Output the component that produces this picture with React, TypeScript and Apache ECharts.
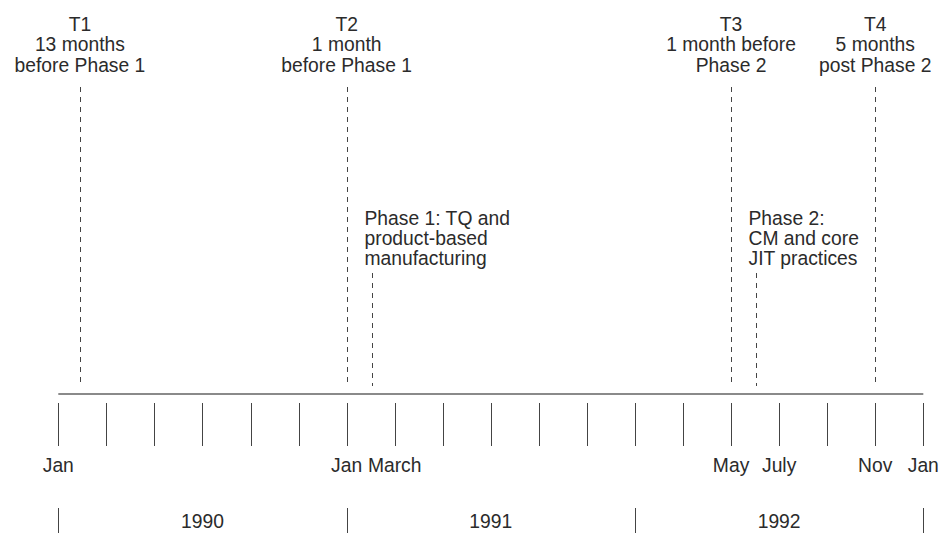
import React, { useEffect, useRef } from "react";
import * as echarts from "echarts";

// ---- data (months counted from Jan 1990) ----
const tickMonths = [0, 2, 4, 6, 8, 10, 12, 14, 16, 18, 20, 22, 24, 26, 28, 30, 32, 34, 36];
const monthLabelMonths = [0, 12, 14, 28, 30, 34, 36];
const monthLabelTexts = ["Jan", "Jan", "March", "May", "July", "Nov", "Jan"];
const yearBoundaries = [0, 12, 24, 36];
const yearLabels = ["1990", "1991", "1992"];
const timePointMonths = [0.9, 12, 28, 34];
const timePointLabels = [
  "T1\n13 months\nbefore Phase 1",
  "T2\n1 month\nbefore Phase 1",
  "T3\n1 month before\nPhase 2",
  "T4\n5 months\npost Phase 2",
];
const phaseMonths = [13.07, 29.03];
const phaseLabels = [
  "Phase 1: TQ and\nproduct-based\nmanufacturing",
  "Phase 2:\nCM and core\nJIT practices",
];

const FONT = "Liberation Sans, Arial, Helvetica, sans-serif";
const TEXT = "#2b2b2b";
const FS = 19.3;

export default function App() {
  const ref = useRef<HTMLDivElement>(null);
  useEffect(() => {
    document.body.style.margin = "0";
    if (!ref.current) return;
    const chart = echarts.init(ref.current, null, { renderer: "svg" });
    const xOf = (api: any, m: number) => api.coord([m, 0])[0];

    const option: any = {
      animation: false,
      grid: { left: 58.3, right: 19.7, top: 0, bottom: 0 },
      xAxis: { type: "value", min: 0, max: 36, show: false },
      yAxis: { type: "value", min: 0, max: 1, show: false },
      series: [
        {
          type: "custom",
          name: "timeline",
          clip: false,
          data: [[0, 0, 36]],
          renderItem: (params: any, api: any) => ({
            type: "line",
            shape: { x1: xOf(api, api.value(0)), y1: 394, x2: xOf(api, api.value(2)), y2: 394 },
            style: { stroke: "#8a8a8a", lineWidth: 2 },
          }),
        },
        {
          type: "custom",
          name: "ticks",
          clip: false,
          data: tickMonths.map((m) => [m, 0]),
          renderItem: (params: any, api: any) => {
            const x = Math.round(xOf(api, api.value(0))) + 0.5;
            return {
              type: "line",
              shape: { x1: x, y1: 403, x2: x, y2: 446 },
              style: { stroke: "#444444", lineWidth: 1 },
            };
          },
        },
        {
          type: "custom",
          name: "monthLabels",
          clip: false,
          data: monthLabelMonths.map((m, i) => [m, 0, i]),
          renderItem: (params: any, api: any) => ({
            type: "text",
            style: {
              text: monthLabelTexts[params.dataIndex],
              x: xOf(api, api.value(0)),
              y: 465,
              align: "center",
              verticalAlign: "middle",
              fontSize: FS,
              fontFamily: FONT,
              fill: TEXT,
            },
          }),
        },
        {
          type: "custom",
          name: "yearBars",
          clip: false,
          data: yearBoundaries.map((m) => [m, 0]),
          renderItem: (params: any, api: any) => {
            const x = Math.round(xOf(api, api.value(0))) + 0.5;
            return {
              type: "line",
              shape: { x1: x, y1: 508, x2: x, y2: 533 },
              style: { stroke: "#444444", lineWidth: 1 },
            };
          },
        },
        {
          type: "custom",
          name: "yearLabels",
          clip: false,
          data: yearLabels.map((_, i) => [(yearBoundaries[i] + yearBoundaries[i + 1]) / 2, 0]),
          renderItem: (params: any, api: any) => ({
            type: "text",
            style: {
              text: yearLabels[params.dataIndex],
              x: xOf(api, api.value(0)),
              y: 521,
              align: "center",
              verticalAlign: "middle",
              fontSize: FS,
              fontFamily: FONT,
              fill: TEXT,
            },
          }),
        },
        {
          type: "custom",
          name: "timePoints",
          clip: false,
          data: timePointMonths.map((m) => [m, 0]),
          renderItem: (params: any, api: any) => {
            const x = Math.round(xOf(api, api.value(0))) + 0.5;
            return {
              type: "group",
              children: [
                {
                  type: "line",
                  shape: { x1: x, y1: 87, x2: x, y2: 384 },
                  style: { stroke: "#444444", lineWidth: 1, lineDash: [5, 5] },
                },
                {
                  type: "text",
                  style: {
                    text: timePointLabels[params.dataIndex],
                    x: xOf(api, api.value(0)),
                    y: 44.5,
                    align: "center",
                    verticalAlign: "middle",
                    lineHeight: 20.5,
                    fontSize: FS,
                    fontFamily: FONT,
                    fill: TEXT,
                  },
                },
              ],
            };
          },
        },
        {
          type: "custom",
          name: "phases",
          clip: false,
          data: phaseMonths.map((m) => [m, 0]),
          renderItem: (params: any, api: any) => {
            const x = Math.round(xOf(api, api.value(0))) + 0.5;
            return {
              type: "group",
              children: [
                {
                  type: "line",
                  shape: { x1: x, y1: 273, x2: x, y2: 386 },
                  style: { stroke: "#444444", lineWidth: 1, lineDash: [5, 5] },
                },
                {
                  type: "text",
                  style: {
                    text: phaseLabels[params.dataIndex],
                    x: x - 8,
                    y: 238.5,
                    align: "left",
                    verticalAlign: "middle",
                    lineHeight: 20,
                    fontSize: FS,
                    fontFamily: FONT,
                    fill: TEXT,
                  },
                },
              ],
            };
          },
        },
      ],
    };
    chart.setOption(option);
    return () => chart.dispose();
  }, []);
  return <div ref={ref} style={{ width: 943, height: 533 }} />;
}
